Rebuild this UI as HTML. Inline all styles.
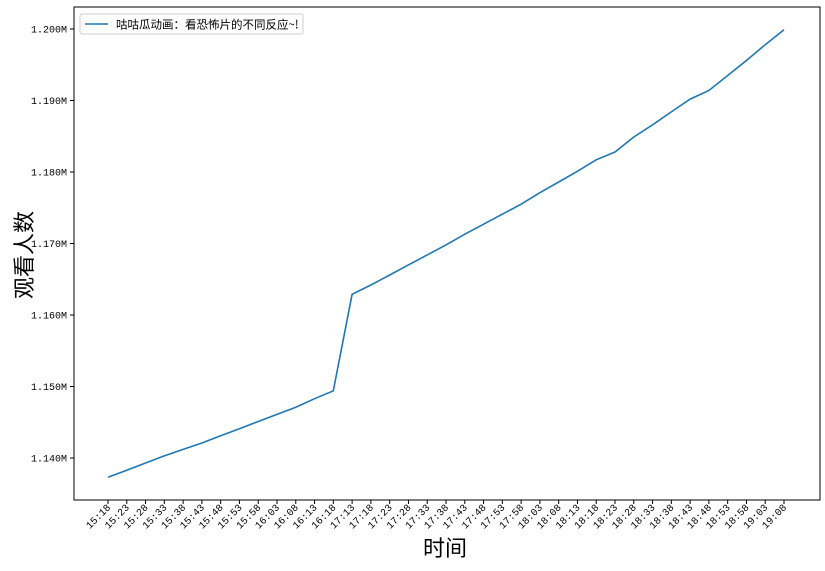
<!DOCTYPE html>
<html><head><meta charset="utf-8">
<style>
body{margin:0;background:#fff;}
svg text{font-family:"Liberation Mono","Noto Sans CJK SC",monospace;}
</style></head>
<body>
<svg id="chart" width="825" height="566" xmlns="http://www.w3.org/2000/svg">
<rect x="0" y="0" width="825" height="566" fill="#fff"/>
<g id="grid"></g>
<path id="line" fill="none" stroke="#1f77b4" stroke-width="1.6"/>
<rect x="74" y="7" width="746" height="493" fill="none" stroke="#000" stroke-width="1"/>
<g id="xt"></g><g id="yt"></g>
<text x="445" y="556" font-size="22" text-anchor="middle" style="font-family:'Noto Sans CJK SC',sans-serif">时间</text>
<text transform="translate(32,255) rotate(-90)" font-size="22" text-anchor="middle" style="font-family:'Noto Sans CJK SC',sans-serif">观看人数</text>
<g>
<rect x="80" y="14" width="223" height="20" fill="#fff" stroke="#ccc" rx="2"/>
<line x1="85" y1="24" x2="108" y2="24" stroke="#1f77b4" stroke-width="1.6"/>
<text x="116" y="28.5" font-size="11.5" style="font-family:'Noto Sans CJK SC',sans-serif">咕咕瓜动画：看恐怖片的不同反应~!</text>
</g>
</svg>
<script>
const categories=["15:18","15:23","15:28","15:33","15:38","15:43","15:48","15:53","15:58","16:03","16:08","16:13","16:18","17:13","17:18","17:23","17:28","17:33","17:38","17:43","17:48","17:53","17:58","18:03","18:08","18:13","18:18","18:23","18:28","18:33","18:38","18:43","18:48","18:53","18:58","19:03","19:08"];
const viewers=[1137.3,1138.3,1139.3,1140.3,1141.2,1142.1,1143.1,1144.1,1145.1,1146.1,1147.1,1148.3,1149.4,1162.9,1164.2,1165.6,1167.0,1168.4,1169.8,1171.3,1172.7,1174.1,1175.5,1177.1,1178.6,1180.1,1181.7,1182.8,1184.9,1186.6,1188.4,1190.2,1191.4,1193.5,1195.6,1197.8,1199.9];
const yTicks=[1140,1150,1160,1170,1180,1190,1200];
const yTickLabels=["1.140M","1.150M","1.160M","1.170M","1.180M","1.190M","1.200M"];
const NS="http://www.w3.org/2000/svg";
const xS=i=>108+i*(784-108)/(categories.length-1);
const yS=v=>458-(v-1140)*(458-29)/60;
let d="";
viewers.forEach((v,i)=>{d+=(i?"L":"M")+xS(i).toFixed(1)+","+yS(v).toFixed(1);});
document.getElementById("line").setAttribute("d",d);
const xt=document.getElementById("xt"),yt=document.getElementById("yt");
categories.forEach((c,i)=>{
 const x=xS(i);
 const l=document.createElementNS(NS,"line");
 l.setAttribute("x1",x);l.setAttribute("x2",x);l.setAttribute("y1",500);l.setAttribute("y2",504);l.setAttribute("stroke","#000");
 
 
 xt.appendChild(l);
 const t=document.createElementNS(NS,"text");
 t.setAttribute("transform","translate("+(x+3)+",508) rotate(-45)");
 t.setAttribute("text-anchor","end");t.setAttribute("font-size","10");
 t.textContent=c;
 
 
 xt.appendChild(t);
});
yTicks.forEach((v,i)=>{
 const y=yS(v);
 const l=document.createElementNS(NS,"line");
 l.setAttribute("x1",70);l.setAttribute("x2",74);l.setAttribute("y1",y);l.setAttribute("y2",y);l.setAttribute("stroke","#000");
 
 
 yt.appendChild(l);
 const t=document.createElementNS(NS,"text");
 t.setAttribute("x",67);t.setAttribute("y",y+3.5);t.setAttribute("text-anchor","end");t.setAttribute("font-size","10");
 t.textContent=yTickLabels[i];
 
 
 yt.appendChild(t);
});
</script>
</body></html>
